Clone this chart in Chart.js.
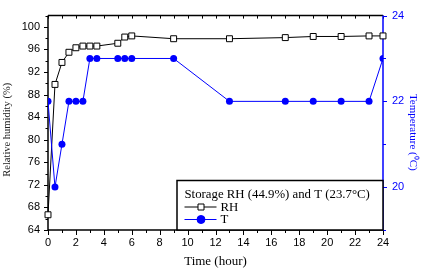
<!DOCTYPE html>
<html><head><meta charset="utf-8">
<script src="https://cdn.jsdelivr.net/npm/chart.js@4/dist/chart.umd.min.js"></script>
<style>html,body{margin:0;padding:0;background:#fff;overflow:hidden}#wrap{width:427px;height:272px}</style>
</head><body><div id="wrap"><canvas id="c" width="427" height="272"></canvas></div>
<script>
const hours = [0, 0.5, 1, 1.5, 2, 2.5, 3, 3.5, 5, 5.5, 6, 9, 13, 17, 19, 21, 23, 24];
const rhValues = [66.7, 89.8, 93.7, 95.5, 96.3, 96.6, 96.6, 96.6, 97.1, 98.2, 98.4, 97.9, 97.9, 98.1, 98.3, 98.3, 98.4, 98.4];
const tempValues = [22, 20, 21, 22, 22, 22, 23, 23, 23, 23, 23, 23, 22, 22, 22, 22, 22, 23];
const hourTicks = [0, 2, 4, 6, 8, 10, 12, 14, 16, 18, 20, 22, 24];
const rhTicks = [64, 68, 72, 76, 80, 84, 88, 92, 96, 100];
const tempTicks = [20, 22, 24];
const legendTitle = 'Storage RH (44.9%) and T (23.7°C)';
const rhLabel = 'RH';
const tempLabel = 'T';
const xTitle = 'Time (hour)';
const yTitle = 'Relative humidity (%)';
const y2Title = 'Temperature (⁰C)';

const BLUE = '#0000ff';
const sans = '"Liberation Sans", Arial, sans-serif';
const serif = '"Liberation Serif", "Times New Roman", serif';

const framePlugin = {
  id: 'frame',
  beforeDatasetsDraw(chart) {
    const {ctx, chartArea: a, scales} = chart;
    const x = scales.x, y = scales.y, y2 = scales.y2;
    ctx.save();
    ctx.lineWidth = 1.5;
    ctx.strokeStyle = '#000';
    ctx.beginPath();
    ctx.moveTo(a.left, a.top); ctx.lineTo(a.left, a.bottom);
    ctx.moveTo(a.left, a.bottom); ctx.lineTo(a.right, a.bottom);
    ctx.moveTo(a.left, a.top); ctx.lineTo(a.right, a.top);
    ctx.stroke();
    ctx.lineWidth = 1;
    ctx.beginPath();
    for (let h = 0; h <= 24; h += 1) {
      const px = Math.round(x.getPixelForValue(h)) + 0.5;
      const major = h % 2 === 0;
      ctx.moveTo(px, a.bottom); ctx.lineTo(px, a.bottom + (major ? 5 : 3));
      ctx.moveTo(px, a.top); ctx.lineTo(px, a.top + 3);
    }
    for (let v = 64; v <= 102; v += 2) {
      const py = Math.round(y.getPixelForValue(v)) + 0.5;
      const major = v % 4 === 0;
      ctx.moveTo(a.left, py); ctx.lineTo(a.left - (major ? 4 : 2.5), py);
    }
    ctx.stroke();
    ctx.strokeStyle = BLUE;
    ctx.lineWidth = 1.5;
    ctx.beginPath();
    ctx.moveTo(a.right, a.top); ctx.lineTo(a.right, a.bottom);
    ctx.stroke();
    ctx.lineWidth = 1;
    ctx.beginPath();
    for (let v = 19; v <= 24; v += 1) {
      const py = Math.round(y2.getPixelForValue(v)) + 0.5;
      const major = v % 2 === 0;
      ctx.moveTo(a.right, py); ctx.lineTo(a.right + (major ? 4 : 3), py);
    }
    ctx.stroke();
    ctx.restore();
  },
  afterDraw(chart) {
    const {ctx, chartArea: a} = chart;
    const mid = (a.top + a.bottom) / 2;
    ctx.save();
    ctx.textAlign = 'center';
    ctx.textBaseline = 'middle';
    ctx.fillStyle = '#222';
    ctx.font = '10.5px ' + serif;
    ctx.translate(7.5, mid + 7);
    ctx.rotate(-Math.PI / 2);
    ctx.fillText(yTitle, 0, 0);
    ctx.restore();
    ctx.save();
    ctx.textAlign = 'center';
    ctx.textBaseline = 'middle';
    ctx.fillStyle = BLUE;
    ctx.font = '11px ' + serif;
    ctx.translate(413, mid + 9.5);
    ctx.rotate(Math.PI / 2);
    ctx.fillText(y2Title, 0, 0);
    ctx.restore();
  }
};

const legendPlugin = {
  id: 'boxLegend',
  afterDatasetsDraw(chart) {
    const {ctx, chartArea: a} = chart;
    const bx = a.right - 206, by = a.bottom - 49.5;
    ctx.save();
    ctx.fillStyle = '#fff';
    ctx.fillRect(bx, by, a.right - bx, a.bottom - by);
    ctx.strokeStyle = '#000';
    ctx.lineWidth = 1.5;
    ctx.strokeRect(bx, by, a.right - bx, a.bottom - by);
    ctx.fillStyle = '#000';
    ctx.font = '12.8px ' + serif;
    ctx.textBaseline = 'alphabetic';
    ctx.textAlign = 'left';
    const tx = bx + 7.5;
    ctx.fillText(legendTitle, tx, by + 17.5);
    const ds = chart.data.datasets;
    const rows = [
      {d: ds[0], y: by + 26.5, base: by + 30.5},
      {d: ds[1], y: by + 39, base: by + 42.5}
    ];
    rows.forEach(r => {
      ctx.strokeStyle = r.d.borderColor;
      ctx.lineWidth = 1;
      ctx.beginPath();
      ctx.moveTo(tx, r.y); ctx.lineTo(tx + 32, r.y);
      ctx.stroke();
      ctx.fillStyle = r.d.pointBackgroundColor;
      ctx.strokeStyle = r.d.pointBorderColor;
      ctx.beginPath();
      if (r.d.pointStyle === 'circle') ctx.arc(tx + 16.5, r.y, 4, 0, Math.PI * 2);
      else ctx.rect(tx + 16.5 - 3, r.y - 3, 6, 6);
      ctx.fill(); ctx.stroke();
      ctx.fillStyle = '#000';
      ctx.fillText(r.d.label, tx + 36, r.base);
    });
    ctx.restore();
  }
};

new Chart(document.getElementById('c'), {
  type: 'line',
  data: {
    datasets: [
      {
        label: rhLabel,
        data: hours.map((h, i) => ({x: h, y: rhValues[i]})),
        yAxisID: 'y',
        borderColor: '#000',
        borderWidth: 1,
        pointStyle: 'rect',
        pointRadius: 4.2,
        pointBorderWidth: 1,
        pointBackgroundColor: '#fff',
        pointBorderColor: '#000',
        tension: 0,
        clip: false,
        order: 1
      },
      {
        label: tempLabel,
        data: hours.map((h, i) => ({x: h, y: tempValues[i]})),
        yAxisID: 'y2',
        borderColor: BLUE,
        borderWidth: 1,
        pointStyle: 'circle',
        pointRadius: 3.5,
        pointBorderWidth: 0,
        pointBackgroundColor: BLUE,
        pointBorderColor: BLUE,
        tension: 0,
        order: 0
      }
    ]
  },
  options: {
    responsive: false,
    animation: false,
    devicePixelRatio: 1,
    layout: {padding: {top: 8, left: 0, right: 0, bottom: 0}},
    plugins: {legend: {display: false}, tooltip: {enabled: false}},
    scales: {
      x: {
        type: 'linear', min: 0, max: 24,
        afterBuildTicks: s => { s.ticks = hourTicks.map(v => ({value: v})); },
        afterFit: s => { s.height = 42; },
        grid: {display: false, drawTicks: false},
        border: {display: false},
        ticks: {font: {family: sans, size: 11}, color: '#000', padding: 6, maxRotation: 0, autoSkip: false},
        title: {display: true, text: xTitle, font: {family: serif, size: 13}, color: '#000', padding: {top: 0, bottom: 3}}
      },
      y: {
        type: 'linear', position: 'left', min: 64, max: 102,
        afterBuildTicks: s => { s.ticks = rhTicks.map(v => ({value: v})); },
        afterFit: s => { s.width = 48; },
        grid: {display: false, drawTicks: false},
        border: {display: false},
        ticks: {font: {family: sans, size: 11}, color: '#000', padding: 8, autoSkip: false},
        title: {display: false}
      },
      y2: {
        type: 'linear', position: 'right', min: 19, max: 24,
        afterBuildTicks: s => { s.ticks = tempTicks.map(v => ({value: v})); },
        afterFit: s => { s.width = 44; },
        grid: {display: false, drawTicks: false},
        border: {display: false},
        ticks: {font: {family: sans, size: 11}, color: BLUE, padding: 9, autoSkip: false},
        title: {display: false}
      }
    }
  },
  plugins: [framePlugin, legendPlugin]
});
</script>
</body></html>
